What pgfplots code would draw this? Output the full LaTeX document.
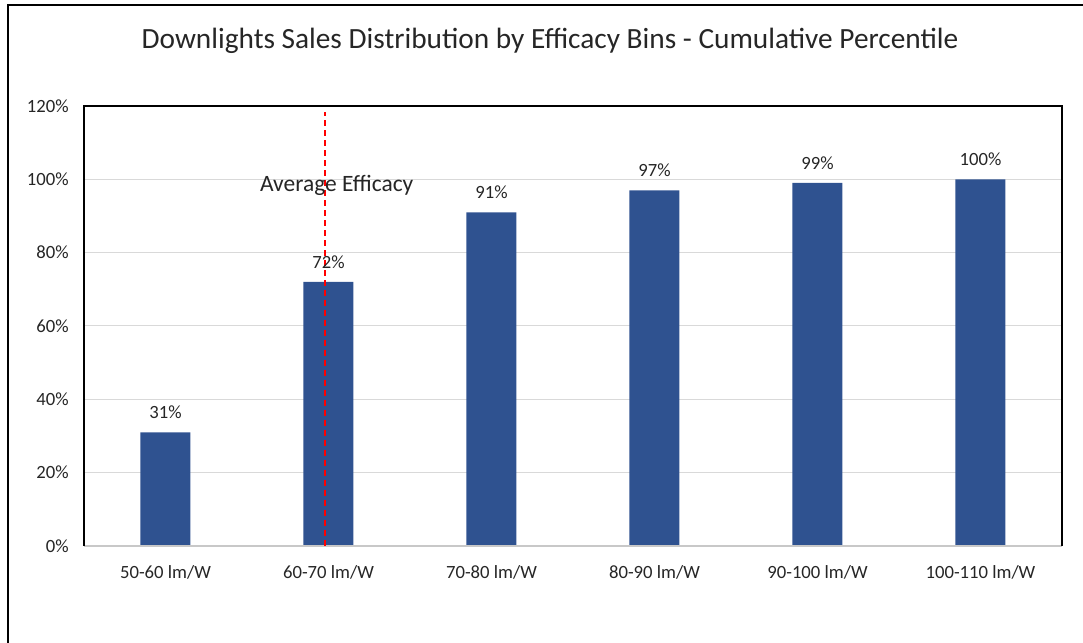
\documentclass[border=0pt]{standalone}
\usepackage{pgfplots}
\pgfplotsset{compat=1.18}
\usepackage{fontspec}
\setmainfont{Carlito}
\definecolor{barblue}{HTML}{2F5290}
\definecolor{gridgray}{HTML}{D9D9D9}
\definecolor{axisgray}{HTML}{C8C8C8}
\definecolor{txt}{HTML}{262626}
\begin{document}
\begin{tikzpicture}
% page extent (1083 x 643 px at 0.75pt per px) and outer chart frame
\path[use as bounding box] (0pt,0pt) rectangle (812.25pt,482.25pt);
\draw[black, line width=1.5pt] (6pt,-2pt) -- (6pt,478.5pt) -- (815pt,478.5pt);
% chart title
\node[font=\fontsize{22pt}{26pt}\selectfont, text=txt] at (412.5pt,451.5pt)
  {Downlights Sales Distribution by Efficacy Bins - Cumulative Percentile};
\begin{axis}[
  at={(63pt,72.75pt)}, anchor=south west,
  scale only axis, width=733.5pt, height=330pt,
  xmin=-0.5, xmax=5.5, ymin=0, ymax=120,
  xtick={0,1,2,3,4,5},
  xticklabels={50-60 lm/W,60-70 lm/W,70-80 lm/W,80-90 lm/W,90-100 lm/W,100-110 lm/W},
  ytick={0,20,40,60,80,100,120},
  yticklabel={\pgfmathprintnumber{\tick}\%},
  /pgf/number format/assume math mode=true,
  major tick length=0pt,
  ymajorgrids, grid style={gridgray, line width=0.75pt},
  axis line style={draw=none},
  ticklabel style={font=\fontsize{14pt}{16pt}\selectfont, text=txt},
  yticklabel style={xshift=-8pt},
  xticklabel style={yshift=-11pt},
  clip=false,
]
% bars: cumulative share of sales per efficacy bin
\addplot[ybar, bar width=37.5pt, fill=barblue, draw=none,
  nodes near coords={\pgfmathprintnumber{\pgfplotspointmeta}\%},
  nodes near coords style={font=\fontsize{14pt}{16pt}\selectfont, text=txt, anchor=base, yshift=10pt}]
  coordinates {(0,31) (1,72) (2,91) (3,97) (4,99) (5,100)};
% bottom axis line and black frame on three sides
\draw[axisgray, line width=1.5pt] (rel axis cs:0,0) -- (rel axis cs:1,0);
\draw[black, line width=1.5pt] (rel axis cs:0,0) -- (rel axis cs:0,1) -- (rel axis cs:1,1) -- (rel axis cs:1,0);
% average efficacy marker
\addplot[red, line width=1.5pt, dash pattern=on 4.5pt off 3pt] coordinates {(0.98,0) (0.98,118.4)};
\node[font=\fontsize{17.6pt}{20pt}\selectfont, text=txt] at (axis cs:1.05,98.4) {Average Efficacy};
\end{axis}
\end{tikzpicture}
\end{document}
